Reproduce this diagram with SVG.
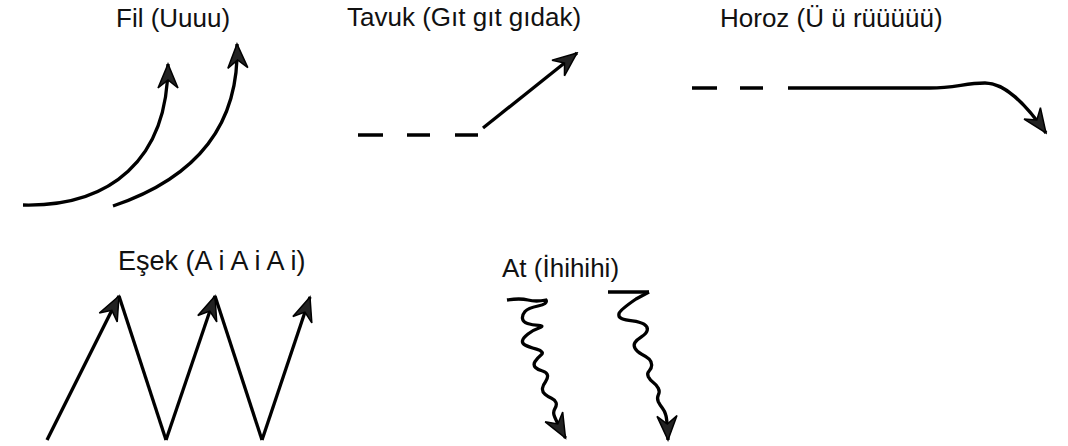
<svg xmlns="http://www.w3.org/2000/svg" width="1068" height="446" viewBox="0 0 1068 446">
<style>
.lbl{font-family:"Liberation Sans",Arial,sans-serif;font-size:26px;fill:#111}
.ln{fill:none;stroke:#000;stroke-width:3.3;stroke-linecap:butt;stroke-linejoin:round}
.ar{marker-end:url(#head)}
</style>
<defs>
<marker id="head" markerUnits="userSpaceOnUse" viewBox="-26 -12 28 24" markerWidth="28" markerHeight="24" refX="0" refY="0" orient="auto">
<path d="M0,0 L-24,-10 L-16,0 L-24,10 Z" fill="#222" stroke="#000" stroke-width="1.5" stroke-linejoin="miter"/>
</marker>
</defs>
<rect width="1068" height="446" fill="#fff"/>
<g id="fil">
<text class="lbl" x="116" y="27">Fil (Uuuu)</text>
<path class="ln ar" d="M23,205 C110,207 168,160 168,64" stroke-width="3.6"/>
<path class="ln ar" d="M113,206 C190,180 240,130 237,44" stroke-width="3.6"/>
</g>
<g id="tavuk">
<text class="lbl" x="347" y="26">Tavuk (Gıt gıt gıdak)</text>
<path class="ln" d="M358,135 H383 M407,135 H430 M455,135 H478"/>
<path class="ln ar" d="M483,128 L577,53"/>
</g>
<g id="horoz">
<text class="lbl" x="720" y="27">Horoz (Ü ü rüüüüü)</text>
<path class="ln" d="M692,88 H717 M740,88 H763"/>
<path class="ln ar" d="M788,88 L930,88 C955,88 965,83 985,83 C1005,83 1025,103 1046,133"/>
</g>
<g id="esek">
<text class="lbl" x="118" y="270" style="font-size:27px">Eşek (A i A i A i)</text>
<path class="ln ar" d="M47,440 L119,296"/>
<path class="ln" d="M119,296 L166,440"/>
<path class="ln ar" d="M166,440 L215,296"/>
<path class="ln" d="M215,296 L262,440"/>
<path class="ln ar" d="M262,440 L310,297"/>
</g>
<g id="at">
<text class="lbl" x="502" y="277">At (İhihihi)</text>
<path class="ln ar" d="M507,300 Q520,298 528,300 T546,300 Q548,304 538,306 Q528,308 525,311.5 Q522,315 522.5,318.5 Q523,322 527.5,323.5 Q532,325 538.5,325.3 Q545,325.7 539,328 Q533,330 528,334 Q523,338 522.5,340.7 Q522,343.3 525,345 Q528,346.7 536.5,349.2 Q545,351.7 541,355 Q537,358.3 535,361.7 Q533,365 535.5,367.5 Q538,370 542.5,371 Q547,372.3 547.5,375.3 Q548,378.3 545.5,381.7 Q543,385 542.5,388.3 Q542,391.7 545,394.2 Q548,396.7 551.5,398.3 Q555,400 556,402.5 Q557,405 555,408.3 Q553,411.7 554,415 Q555,418.3 560,428 L565.5,438"/>
<path class="ln" d="M608,292 L649,292" stroke-width="4"/>
<path class="ln ar" d="M649,292 L636,299 Q620,310 619,313.5 Q618,317 621.5,318.5 Q625,320 632.5,320.8 Q640,321.7 644,324.2 Q648,326.7 647.3,330 Q646.7,333.3 641.7,336.7 Q636.7,340 635,342.5 Q633.3,345 635,348.3 Q636.7,351.7 641.7,354.2 Q646.7,356.7 649.2,359.2 Q651.7,361.7 651.7,365 Q651.7,368.3 649.2,370.8 Q646.7,373.3 648.3,376.7 Q650,380 653.3,382.5 Q656.7,385 658.3,388.3 Q660,391.7 658.3,395 Q656.7,398.3 658.3,401.7 Q660,405 662.5,408.3 Q665,411.7 665.8,415 Q666.7,418.3 667.5,428 L668,440"/>
</g>
</svg>
